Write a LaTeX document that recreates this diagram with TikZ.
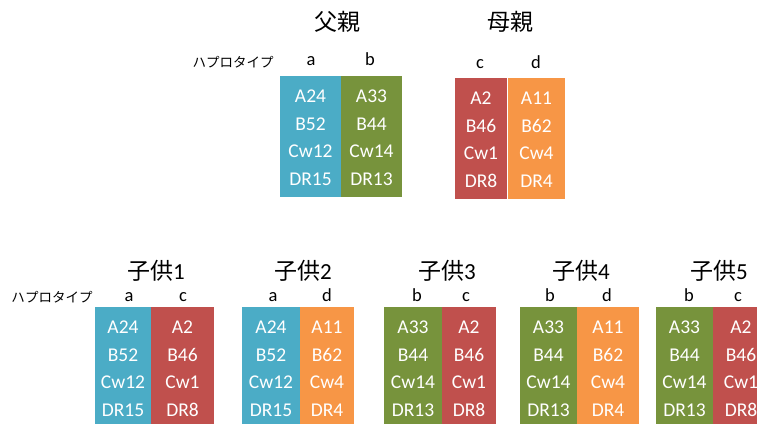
\documentclass[tikz,border=0pt]{standalone}
\usepackage{fontspec}
\setmainfont{Carlito}
\newfontfamily\jp{Noto Sans CJK JP}
\definecolor{hblue}{HTML}{4BACC6}
\definecolor{hgreen}{HTML}{77933C}
\definecolor{hred}{HTML}{C0504D}
\definecolor{horange}{HTML}{F79646}
\tikzset{
  cellbox/.style={draw=none, inner sep=0pt, outer sep=0pt, anchor=north west},
  allele/.style={text=white, font=\fontsize{19.5}{21}\selectfont, inner sep=0pt},
  heading/.style={font=\jp\fontsize{23}{26}\selectfont, inner sep=0pt},
  haplo/.style={font=\jp\fontsize{13.5}{15}\selectfont, inner sep=0pt},
  letter/.style={font=\fontsize{18.5}{20}\selectfont, inner sep=0pt, anchor=base},
}
\newcommand\hapcol[7]{%
  \node[cellbox, fill=#6, minimum width=#4pt, minimum height=#5pt] (#1) at (#2,#3) {};
  \foreach \t [count=\i] in {#7} {
    \node[allele] (#1-\i) at ([yshift=-(20.5+27.6*(\i-1))*1pt]#1.north) {\t};
  }%
}
\begin{document}
\begin{tikzpicture}[x=1pt,y=-1pt]
\useasboundingbox (0,0) rectangle (757,423);
\clip (0,0) rectangle (757,423);
% parents
\node[heading] (fh) at (337,22) {父親};
\node[heading] (mh) at (510,22) {母親};
\node[haplo] (hp0) at (233,62) {ハプロタイプ};
\node[letter] (la) at (311,65) {a};
\node[letter] (lb) at (370,65) {b};
\node[letter] (lc) at (480,68) {c};
\node[letter] (ld) at (536,68) {d};
\hapcol{fa}{280}{76}{61}{121}{hblue}{A24,B52,Cw12,DR15}
\hapcol{fb}{341}{76}{61}{121}{hgreen}{A33,B44,Cw14,DR13}
\hapcol{mc}{455}{78}{52}{121}{hred}{A2,B46,Cw1,DR8}
\hapcol{md}{508}{78}{57}{121}{horange}{A11,B62,Cw4,DR4}
% children
\node[heading] (c1h) at (156,271) {子供\fontspec{Carlito}1};
\node[heading] (c2h) at (303,271) {子供\fontspec{Carlito}2};
\node[heading] (c3h) at (447,271) {子供\fontspec{Carlito}3};
\node[heading] (c4h) at (581,271) {子供\fontspec{Carlito}4};
\node[heading] (c5h) at (719,271) {子供\fontspec{Carlito}5};
\node[haplo] (hp1) at (52,297) {ハプロタイプ};
\node[letter] (c1a) at (129,301) {a};
\node[letter] (c1b) at (183,301) {c};
\node[letter] (c2a) at (273,301) {a};
\node[letter] (c2b) at (327,301) {d};
\node[letter] (c3a) at (417,301) {b};
\node[letter] (c3b) at (466,301) {c};
\node[letter] (c4a) at (550,301) {b};
\node[letter] (c4b) at (607,301) {d};
\node[letter] (c5a) at (689,301) {b};
\node[letter] (c5b) at (738,301) {c};
\hapcol{k1a}{95}{307}{56}{120}{hblue}{A24,B52,Cw12,DR15}
\hapcol{k1b}{151}{307}{63}{120}{hred}{A2,B46,Cw1,DR8}
\hapcol{k2a}{242}{307}{58}{120}{hblue}{A24,B52,Cw12,DR15}
\hapcol{k2b}{300}{307}{54}{120}{horange}{A11,B62,Cw4,DR4}
\hapcol{k3a}{384}{307}{58}{120}{hgreen}{A33,B44,Cw14,DR13}
\hapcol{k3b}{442}{307}{54}{120}{hred}{A2,B46,Cw1,DR8}
\hapcol{k4a}{520}{307}{57}{120}{hgreen}{A33,B44,Cw14,DR13}
\hapcol{k4b}{577}{307}{62}{120}{horange}{A11,B62,Cw4,DR4}
\hapcol{k5a}{656}{307}{57}{120}{hgreen}{A33,B44,Cw14,DR13}
\hapcol{k5b}{713}{307}{56}{120}{hred}{A2,B46,Cw1,DR8}
\end{tikzpicture}
\end{document}
